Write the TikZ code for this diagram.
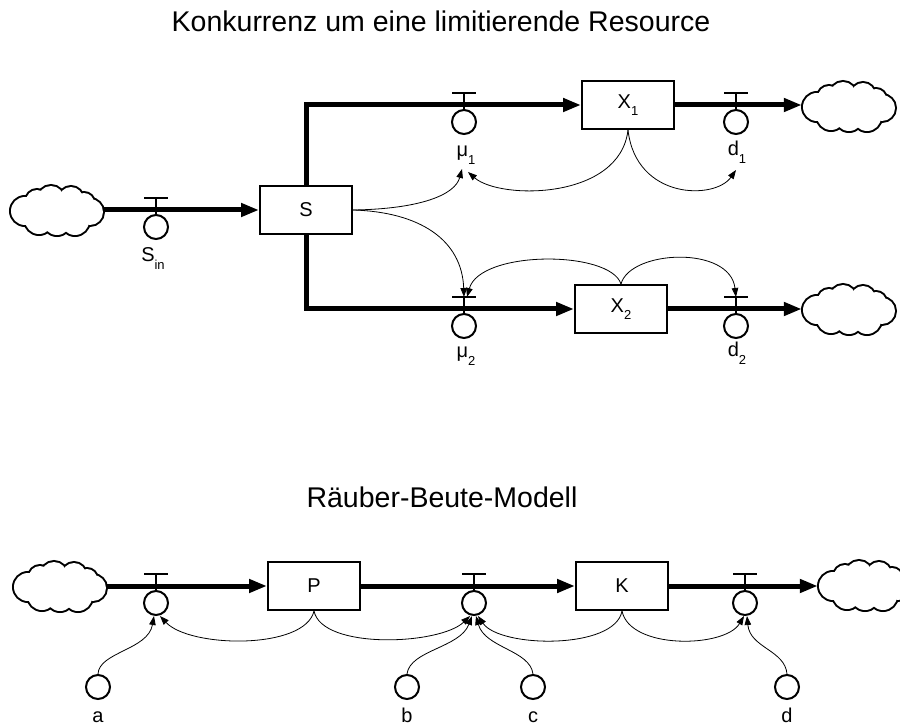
\documentclass[tikz,border=0pt]{standalone}
\usepackage{fontspec}
\setmainfont{Liberation Sans}
\usetikzlibrary{arrows.meta}

% lowered index, as the stock-and-flow editor prints it
\newcommand\lowsub[1]{\raisebox{-7.5pt}{\fontsize{13}{14}\selectfont #1}}

% puffs of a source/sink cloud: x offset / y offset (downwards) / radius
\def\puffs{-32/1/14, -20/-9/11, -6/-11/13, 14/-11/12, 27/-7/10,
  33/2/13, 18/11/14, 0/11/14, -18/10/14}

% source or sink cloud: #1 name, #2 x, #3 y
\newcommand\cloudat[3]{%
  \node[skybox] (#1) at (#2,#3) {};
  \begin{scope}[shift={(#1.center)}]
    \foreach \dx/\dy/\r in \puffs {\draw[line width=4pt] (\dx,\dy) circle[radius=\r pt];}
    \foreach \dx/\dy/\r in \puffs {\fill[white] (\dx,\dy) circle[radius=\r pt];}
    \fill[white] (0,1) ellipse[x radius=30pt, y radius=12pt];
  \end{scope}}

% valve on a flow line: #1 name, #2 x of the valve, #3 y of the flow line
\newcommand\valve[3]{%
  \node[aux] (#1) at ({#2},{#3+17}) {};
  \coordinate (#1-bar) at ({#2},{#3-12});
  \draw[valvebar] ([xshift=-12pt]#1-bar) -- ([xshift=12pt]#1-bar);
  \draw[valvebar] (#1-bar) -- (#1.north);
}

\begin{document}
\begin{tikzpicture}[x=1pt,y=-1pt,
  stock/.style={draw, line width=2pt, minimum width=92pt, minimum height=48pt,
    inner sep=0pt, fill=white, font=\fontsize{20}{22}\selectfont},
  skybox/.style={minimum width=94pt, minimum height=52pt, inner sep=0pt},
  aux/.style={circle, draw, line width=2pt, minimum size=24pt, inner sep=0pt},
  valvebar/.style={line width=2pt},
  flow/.style={line width=5pt, -{Triangle[length=18pt,width=13pt]}},
  link/.style={line width=0.8pt, -{Triangle[length=9pt,width=6.5pt]}},
  lbl/.style={font=\fontsize{20}{22}\selectfont, inner sep=0pt},
  ttl/.style={font=\fontsize{28.5}{30}\selectfont, inner sep=0pt}]
\useasboundingbox (0,0) rectangle (900,727);

% ---------- competition for a limiting resource ----------
\node[ttl, anchor=base] (title1) at (441,32) {Konkurrenz um eine limitierende Resource};

\cloudat{srcS}{57}{210}
\node[stock] (S) at (306,210) {S};
\node[stock] (X1) at (628,105) {X\lowsub{1}};
\node[stock] (X2) at (621,309) {X\lowsub{2}};
\cloudat{sinkX1}{849}{106}
\cloudat{sinkX2}{849}{309}

\draw[flow] (srcS.east) -- (S.west);
\draw[flow] (S.north) |- (X1.west);
\draw[flow] (S.south) |- (X2.west);
\draw[flow] (X1.east) -- (sinkX1.west |- X1.east);
\draw[flow] (X2.east) -- (sinkX2.west);

\valve{Sin}{156}{210}
\valve{mu1}{464}{105}
\valve{d1}{736}{105}
\valve{mu2}{464}{309}
\valve{d2}{736}{309}

\node[lbl, anchor=base] (SinL) at (153,262) {S\lowsub{in}};
\node[lbl, anchor=base] (mu1L) at (466,157) {μ\lowsub{1}};
\node[lbl, anchor=base] (d1L) at (737,156) {d\lowsub{1}};
\node[lbl, anchor=base] (mu2L) at (466,358) {μ\lowsub{2}};
\node[lbl, anchor=base] (d2L) at (737,357) {d\lowsub{2}};

\coordinate (mu1inA) at (462,169);
\coordinate (mu1inB) at (468,172);
\coordinate (d1in) at (736,170);

\draw[link] (S.east) .. controls (420,209) and (455,195) .. (mu1inA);
\draw[link] (X1.south) .. controls (620,200) and (500,200) .. (mu1inB);
\draw[link] (X1.south) .. controls (636,200) and (715,200) .. (d1in);
\draw[link] (S.east) .. controls (420,212) and (462,240) .. (mu2-bar);
\draw[link] (X2.north) .. controls (610,250) and (480,250) .. ([xshift=3pt]mu2-bar);
\draw[link] (X2.north) .. controls (630,250) and (730,245) .. (d2-bar);

% ---------- predator-prey model ----------
\node[ttl, anchor=base] (title2) at (442,507) {Räuber-Beute-Modell};

\cloudat{srcP}{60}{586}
\node[stock] (P) at (314,586) {P};
\node[stock] (K) at (622,586) {K};
\cloudat{sinkK}{865}{585}

\draw[flow] (srcP.east) -- (P.west);
\draw[flow] (P.east) -- (K.west);
\draw[flow] (K.east) -- (sinkK.west |- K.east);

\valve{v1}{156}{586}
\valve{v2}{474}{586}
\valve{v3}{745}{586}

\node[aux] (ca) at (98,687) {};
\node[aux] (cb) at (407,687) {};
\node[aux] (cc) at (533,687) {};
\node[aux] (cd) at (787,687) {};
\node[lbl, anchor=base] (la) at (98,722) {a};
\node[lbl, anchor=base] (lb) at (407,722) {b};
\node[lbl, anchor=base] (lc) at (533,722) {c};
\node[lbl, anchor=base] (ld) at (787,722) {d};

\draw[link] (ca.north) .. controls (99,652) and (148,650) .. ([xshift=-2pt]v1.south);
\draw[link] (P.south) .. controls (305,650) and (190,648) .. ([xshift=4pt]v1.south);
\draw[link] (P.south) .. controls (322,650) and (440,645) .. ([xshift=-4pt]v2.south);
\draw[link] (cb.north) .. controls (410,650) and (460,648) .. ([xshift=-2pt]v2.south);
\draw[link] (cc.north) .. controls (530,650) and (485,648) .. ([xshift=2pt]v2.south);
\draw[link] (K.south) .. controls (615,650) and (500,648) .. ([xshift=4pt]v2.south);
\draw[link] (K.south) .. controls (630,650) and (725,648) .. ([xshift=-1pt]v3.south);
\draw[link] (cd.north) .. controls (785,650) and (750,648) .. ([xshift=2pt]v3.south);
\end{tikzpicture}
\end{document}
